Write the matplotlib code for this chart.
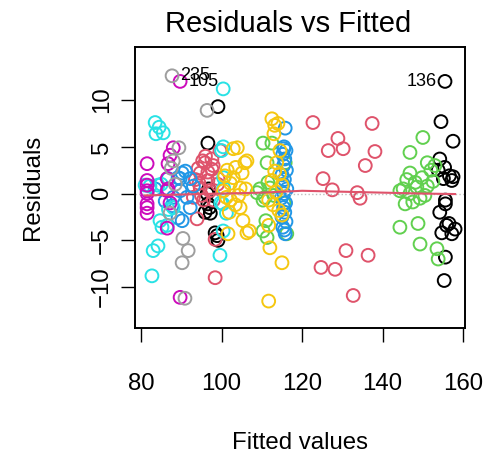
import matplotlib.pyplot as plt

plt.rcParams['font.family'] = ['Liberation Sans', 'DejaVu Sans']

# residuals by group
black_x = [155.5, 154.5, 157.5, 154.2, 155.4, 153.8, 156.6, 157.2, 155.1, 155.6,
           154.2, 155.6, 155.9, 154.7, 157.2, 155.6, 155.3, 156.5, 157.5, 158.0,
           99.1, 96.6, 96.4, 96.6, 95.9, 97.2, 98.4, 99.1, 98.9, 97.0, 96.8]
black_y = [12.0, 7.7, 5.6, 3.7, 2.8, 2.5, 1.9, 1.4, 1.6, -0.7,
           -2.0, -1.1, -3.4, -4.2, -4.3, -6.8, -9.3, -3.2, 1.8, -3.8,
           9.3, 5.4, 0.0, -1.1, -2.0, -2.1, -4.2, -5.0, -4.5, -1.5, 0.5]

red_x = [95.9, 94.7, 97.9, 99.6, 96.6, 99.1, 94.7, 97.1, 93.0, 95.5, 98.0, 97.6,
         95.3, 97.6, 94.2, 94.4, 96.6, 95.0, 93.9, 98.4, 98.4, 99.0, 93.5, 96.0,
         122.7, 137.4, 128.9, 126.5, 130.2, 138.1, 135.7, 125.2, 127.5, 133.7,
         134.4, 130.9, 136.4, 124.7, 128.2, 132.7]
red_y = [3.3, 2.2, 3.0, 4.6, 1.4, 1.6, 0.6, 0.3, -0.4, -0.7, -0.7, 3.7,
         3.5, 2.6, 2.7, 1.1, 2.3, -0.2, -2.7, -4.9, -9.0, 1.0, 1.5, 4.0,
         7.6, 7.5, 5.9, 4.6, 4.8, 4.5, 3.0, 1.6, 0.4, 0.1,
         -0.5, -6.1, -6.6, -7.9, -8.1, -10.9]

green_x = [150.0, 146.8, 151.1, 146.8, 149.8, 148.1, 145.1, 151.1, 146.8, 144.3,
           149.3, 145.6, 148.5, 144.3, 148.8, 149.3, 153.5, 153.8, 152.0, 152.5,
           150.5, 147.5, 146.0, 153.0,
           110.3, 112.5, 111.3, 115.8, 108.8, 110.8, 112.0, 110.3, 111.0, 111.3,
           110.3, 116.2, 109.5, 113.0, 111.5, 115.5]
green_y = [6.0, 4.4, 3.3, 2.2, 1.7, 1.2, 0.5, 0.8, 0.0, 0.3,
           -0.5, -1.1, 0.7, -3.6, -3.2, -5.4, -5.9, -7.0, 2.5, 1.3,
           -0.2, -0.9, 1.5, 3.0,
           5.4, 5.4, 3.3, 3.3, 0.1, -0.4, 0.6, -0.7, -2.9, -4.7,
           -4.0, -4.3, 0.5, -0.2, 1.2, -1.0]

blue_x = [90.2, 91.0, 89.2, 86.7, 92.2, 89.7, 88.0, 83.5, 89.7, 90.2, 89.2, 92.2,
          91.4, 87.7, 86.0, 93.0,
          115.8, 115.5, 116.0, 115.2, 115.7, 115.4, 116.1, 115.0, 115.6, 115.3,
          116.2, 115.5, 114.8, 115.9, 115.4, 115.7, 115.0, 116.0, 115.2, 115.8,
          115.5, 115.6]
blue_y = [2.2, 2.4, 1.7, 1.6, 1.6, 0.3, -0.4, 0.5, 1.6, -2.9, -2.6, -1.5,
          -0.4, -1.3, -0.8, 0.8,
          7.0, 5.0, 4.6, 4.2, 3.7, 3.0, 2.5, 2.0, 1.5, 1.0,
          0.5, 0.0, -0.5, -1.0, -1.5, -2.0, -2.5, -3.0, -3.6, -4.3,
          4.8, -3.9]

cyan_x = [100.4, 83.5, 84.5, 83.7, 85.5, 100.0, 100.4, 82.7, 83.0, 84.2, 99.6,
          85.2, 86.5, 84.7, 100.3, 101.2, 100.4, 82.2, 84.2, 81.0, 86.8, 100.5,
          100.5, 99.8, 88.0, 85.0]
cyan_y = [11.2, 7.6, 7.1, 6.4, 6.5, 4.6, 5.0, -8.8, -6.1, -5.6, -6.6,
          -3.6, -3.4, -2.9, -1.1, -2.1, -4.0, 0.8, 0.9, 0.9, -1.7, 1.7,
          0.6, -1.0, -1.5, 1.0]

magenta_x = [81.5, 81.5, 81.5, 81.5, 81.5, 81.5, 81.5, 81.5,
             87.2, 88.0, 86.7, 86.5, 86.7, 86.5, 87.2, 86.5, 89.7, 89.7]
magenta_y = [3.2, 1.4, 0.9, 0.3, 0.0, -1.1, -2.1, -1.5,
             4.1, 4.9, 3.2, 1.6, 0.5, 0.3, -1.0, -3.7, -11.1, 12.0]

yellow_x = [103.9, 106.3, 101.4, 105.1, 102.9, 102.2, 104.6, 100.5, 104.2, 102.2,
            105.3, 106.3, 101.6, 104.6, 103.4, 102.9, 105.8, 101.2, 103.5, 100.8,
            106.0, 106.9, 101.9,
            112.5, 113.2, 114.0, 113.0, 113.7, 113.2, 114.4, 112.5, 115.0, 111.7,
            112.0, 115.0, 111.7, 111.7, 114.2, 115.0, 113.5, 114.5, 112.8]
yellow_y = [4.9, 3.5, 2.5, 2.2, 1.7, 1.1, 0.6, 0.3, -0.2, -0.7,
            -2.9, -4.2, -4.3, -1.5, -1.2, 4.8, 3.3, -0.4, 2.8, 1.9,
            0.5, -4.0, -2.0,
            8.0, 7.3, 7.5, 6.4, 3.3, 2.4, 2.1, 1.4, 0.9, -0.7,
            -5.8, -7.4, -11.5, -3.4, -1.8, -2.3, 0.2, 4.6, -1.2]

gray_x = [87.7, 96.4, 89.4, 88.0, 87.5, 87.2, 90.4, 91.7, 90.2, 90.9, 88.5]
gray_y = [12.6, 8.9, 4.9, 3.5, 2.7, -2.1, -4.8, -6.1, -7.4, -11.2, 1.0]

# smoother line
smooth_x = [81, 90, 100, 110, 120, 130, 140, 150, 158]
smooth_y = [-0.2, -0.1, 0.0, 0.1, 0.3, 0.2, 0.1, 0.0, -0.05]

# labelled points
lab_text = ['235', '105', '136']
lab_x = [87.7, 89.7, 155.5]
lab_y = [12.6, 12.0, 12.0]

groups = [
    ('#000000', black_x, black_y),
    ('#DF536B', red_x, red_y),
    ('#61D04F', green_x, green_y),
    ('#2297E6', blue_x, blue_y),
    ('#28E2E5', cyan_x, cyan_y),
    ('#CD0BBC', magenta_x, magenta_y),
    ('#F5C710', yellow_x, yellow_y),
    ('#9E9E9E', gray_x, gray_y),
]

fig = plt.figure(figsize=(4.84, 4.59), dpi=100)
ax = fig.add_axes([0.279, 0.285, 0.682, 0.613])

for col, xs, ys in groups:
    ax.scatter(xs, ys, s=85, facecolors='none', edgecolors=col, linewidths=1.4)

ax.axhline(0, color='#BEBEBE', ls=':', lw=1)
ax.plot(smooth_x, smooth_y, color='#DF536B', lw=1.5)

for t, x, y in zip(lab_text, lab_x, lab_y):
    if x < 120:
        ax.annotate(t, (x, y), xytext=(6, 0), textcoords='offset points',
                    ha='left', va='center', fontsize=13)
    else:
        ax.annotate(t, (x, y), xytext=(-6, 0), textcoords='offset points',
                    ha='right', va='center', fontsize=13)

ax.set_xlim(78.5, 160.5)
ax.set_ylim(-14.4, 15.7)
ax.set_xticks([80, 100, 120, 140, 160])
ax.set_yticks([-10, -5, 0, 5, 10])
ax.set_yticklabels(['\u221210', '\u22125', '0', '5', '10'], rotation=90, va='center')
ax.tick_params(axis='both', direction='out', length=10, width=1, labelsize=17.3)
ax.tick_params(axis='x', pad=22)
ax.tick_params(axis='y', pad=6)
for sp in ax.spines.values():
    sp.set_linewidth(1.4)

ax.set_xlabel('Fitted values', fontsize=17.3, labelpad=27)
ax.set_ylabel('Residuals', fontsize=17.3, labelpad=34)
ax.set_title('Residuals vs Fitted', fontsize=21, pad=11, x=0.464)

fig.savefig('out.png', dpi=100)
